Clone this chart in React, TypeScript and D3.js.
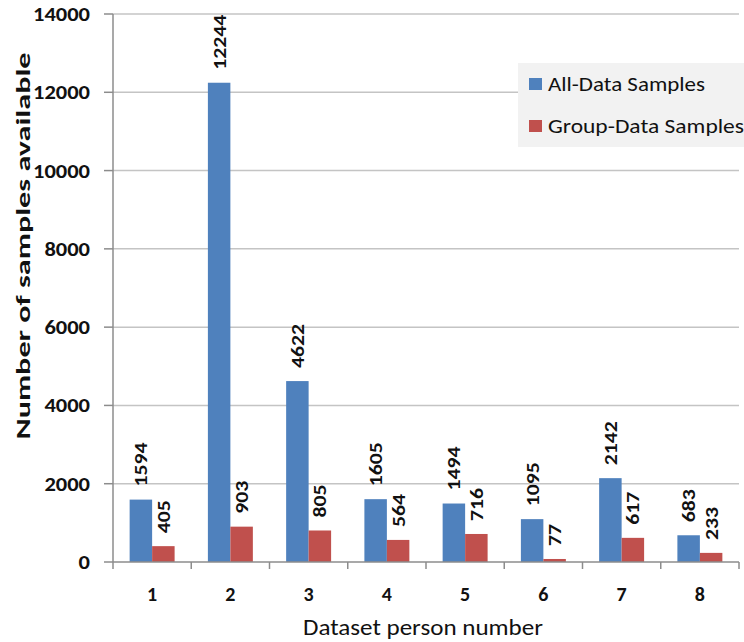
import * as d3 from "d3";
import React from "react";

const persons = ["1", "2", "3", "4", "5", "6", "7", "8"];
const allData = [1594, 12244, 4622, 1605, 1494, 1095, 2142, 683];
const groupData = [405, 903, 805, 564, 716, 77, 617, 233];
const seriesNames = ["All-Data Samples", "Group-Data Samples"];
const seriesColors = ["#4f81bd", "#c0504d"];
const yTicks = [0, 2000, 4000, 6000, 8000, 10000, 12000, 14000];

const W = 744;
const H = 642;
const left = 113;
const right = 739;
const top = 14;
const bottom = 562;
const font = "Carlito, Lato, 'Open Sans', sans-serif";
// legend text widths as they appear in the picture
const legendWidths = [157, 196];

const App: React.FC = () => {
  const x = d3.scaleBand<string>().domain(persons).range([left, right]);
  const inner = d3
    .scaleBand<number>()
    .domain([0, 1])
    .range([0, x.bandwidth()])
    .paddingOuter(0.74)
    .paddingInner(0);
  const y = d3.scaleLinear().domain([0, 14000]).range([bottom, top]);

  const series = [allData, groupData];

  return (
    <svg
      width={W}
      height={H}
      style={{ position: "absolute", left: 0, top: 0, background: "#fff" }}
    >
      {yTicks.map((t) => (
        <g key={t}>
          {t > 0 && (
            <line x1={left} x2={right} y1={y(t)} y2={y(t)} stroke="#c4c4c4" strokeWidth={1.5} />
          )}
          <line x1={left - 9} x2={left} y1={y(t)} y2={y(t)} stroke="#8c8c8c" strokeWidth={1.5} />
          <text
            x={90}
            y={y(t)}
            textAnchor="end"
            dominantBaseline="central"
            fontFamily={font}
            fontWeight="bold"
            fontSize={20}
            textLength={String(t).length * 11.4}
            lengthAdjust="spacingAndGlyphs"
            fill="#111"
          >
            {t}
          </text>
        </g>
      ))}

      {series.map((vals, si) =>
        vals.map((v, i) => {
          const bx = (x(persons[i]) ?? 0) + (inner(si) ?? 0);
          const bw = inner.bandwidth();
          const cx = bx + bw / 2;
          const ty = y(v) - 13;
          return (
            <g key={`${si}-${i}`}>
              <rect x={bx} y={y(v)} width={bw} height={bottom - y(v)} fill={seriesColors[si]} />
              <text
                transform={`translate(${cx},${ty}) rotate(-90)`}
                textAnchor="start"
                dominantBaseline="central"
                fontFamily={font}
                fontWeight="bold"
                fontSize={19}
                textLength={String(v).length * 11}
                lengthAdjust="spacingAndGlyphs"
                fill="#111"
              >
                {v}
              </text>
            </g>
          );
        })
      )}

      <line x1={left} x2={left} y1={top} y2={bottom} stroke="#8c8c8c" strokeWidth={1.5} />
      <line x1={left} x2={right} y1={bottom} y2={bottom} stroke="#8c8c8c" strokeWidth={1.5} />
      {[...persons.map((p) => x(p) ?? 0), right].map((tx, i) => (
        <line key={i} x1={tx} x2={tx} y1={bottom} y2={bottom + 7} stroke="#8c8c8c" strokeWidth={1.5} />
      ))}
      {persons.map((p) => (
        <text
          key={p}
          x={(x(p) ?? 0) + x.bandwidth() / 2}
          y={594}
          textAnchor="middle"
          dominantBaseline="central"
          fontFamily={font}
          fontWeight="bold"
          fontSize={20}
          fill="#111"
        >
          {p}
        </text>
      ))}

      <text
        x={423}
        y={627}
        textAnchor="middle"
        dominantBaseline="central"
        fontFamily={font}
        fontSize={23}
        textLength={240}
        lengthAdjust="spacingAndGlyphs"
        fill="#111"
      >
        Dataset person number
      </text>
      <text
        transform={`translate(23,246) rotate(-90)`}
        textAnchor="middle"
        dominantBaseline="central"
        fontFamily={font}
        fontWeight="bold"
        fontSize={21}
        textLength={387}
        lengthAdjust="spacingAndGlyphs"
        fill="#111"
      >
        Number of samples available
      </text>

      <rect x={518} y={63} width={226} height={84} fill="#f2f2f2" />
      {seriesNames.map((name, i) => (
        <g key={name}>
          <rect x={529} y={78 + i * 42} width={13} height={12} fill={seriesColors[i]} />
          <text
            x={548}
            y={84 + i * 42}
            dominantBaseline="central"
            fontFamily={font}
            fontSize={20}
            textLength={legendWidths[i]}
            lengthAdjust="spacingAndGlyphs"
            fill="#111"
          >
            {name}
          </text>
        </g>
      ))}
    </svg>
  );
};

export default App;
